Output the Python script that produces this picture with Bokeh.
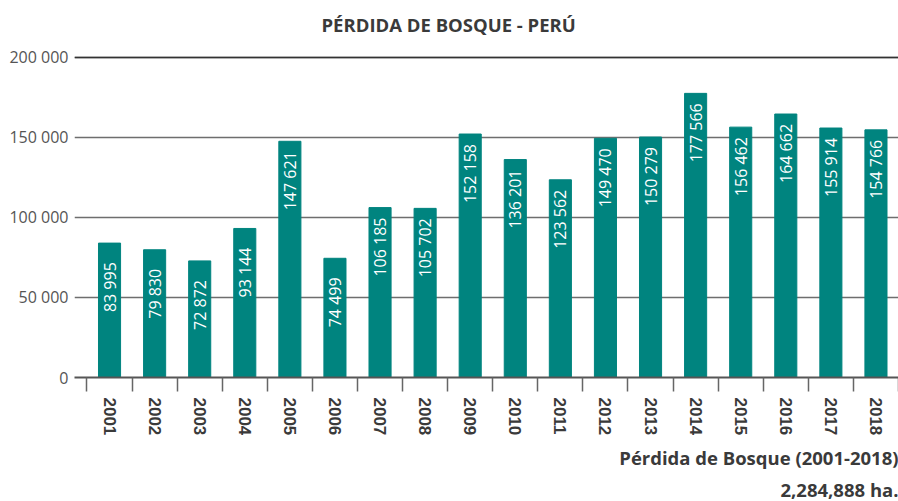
import numpy as np
from bokeh.plotting import figure
from bokeh.models import ColumnDataSource, FixedTicker, Span, Range1d, Title
from bokeh.core.properties import value
from bokeh.embed import file_html
from bokeh.resources import INLINE

years = ["2001", "2002", "2003", "2004", "2005", "2006", "2007", "2008", "2009",
         "2010", "2011", "2012", "2013", "2014", "2015", "2016", "2017", "2018"]
loss = [83995, 79830, 72872, 93144, 147621, 74499, 106185, 105702, 152158,
        136201, 123562, 149470, 150279, 177566, 156462, 164662, 155914, 154766]
y_ticks = [0, 50000, 100000, 150000, 200000]
y_tick_labels = ["0", "50 000", "100 000", "150 000", "200 000"]
title_text = "PÉRDIDA DE BOSQUE - PERÚ"
footer_1 = "Pérdida de Bosque (2001-2018)"
footer_2 = "2,284,888 ha."

xs = list(range(1, len(years) + 1))
labels = [f"{v:,}".replace(",", " ") for v in loss]
src = ColumnDataSource(dict(x=xs, top=loss, lab=labels))

BAR = "#00847f"
DARK = "#3a3a3a"

p = figure(width=898, height=501, output_backend="svg", toolbar_location=None,
           x_range=Range1d(0.223, 18.5), y_range=Range1d(0, 205607),
           min_border_left=74, min_border_right=0, min_border_top=48,
           min_border_bottom=121)
p.outline_line_color = None

p.vbar(x="x", top="top", bottom=0, width=0.49, color=BAR, source=src)
p.text(x="x", y="top", text="lab", source=src, angle=np.pi / 2,
       text_align="left", text_baseline="middle", y_offset=69,
       text_color="white", text_font=value("Open Sans"), text_font_size="16px")

# axes
p.xaxis.ticker = FixedTicker(ticks=xs, minor_ticks=[i + 0.5 for i in range(0, len(years) + 1)])
p.xaxis.major_label_overrides = {x: y for x, y in zip(xs, years)}
p.xaxis.major_label_orientation = "vertical"
p.xaxis.major_tick_out = 0
p.xaxis.major_tick_in = 0
p.xaxis.minor_tick_out = 14
p.xaxis.minor_tick_in = 0
p.xaxis.minor_tick_line_color = "#666666"
p.xaxis.minor_tick_line_width = 1.5
p.xaxis.axis_line_color = "#555555"
p.xaxis.axis_line_width = 2
p.xaxis.major_label_standoff = 6
p.xaxis.major_label_text_font = "Liberation Sans"
p.xaxis.major_label_text_font_style = "bold"
p.xaxis.major_label_text_font_size = "17px"
p.xaxis.major_label_text_color = DARK

p.yaxis.ticker = FixedTicker(ticks=y_ticks)
p.yaxis.major_label_overrides = {t: l for t, l in zip(y_ticks, y_tick_labels)}
p.yaxis.axis_line_color = None
p.yaxis.major_tick_line_color = None
p.yaxis.minor_tick_line_color = None
p.yaxis.major_label_standoff = 0
p.yaxis.major_label_text_font = "Open Sans"
p.yaxis.major_label_text_font_size = "16px"
p.yaxis.major_label_text_color = "#555555"

p.xgrid.grid_line_color = None
p.ygrid.ticker = FixedTicker(ticks=y_ticks[1:])
p.ygrid.grid_line_color = "#6e6e6e"
p.ygrid.grid_line_width = 1.5

p.add_layout(Span(location=200000, dimension="width", line_color="#333333", line_width=1.5))

p.title = Title(text=title_text, align="left", offset=247, standoff=20,
                vertical_align="top",
                text_font="Open Sans", text_font_style="bold",
                text_font_size="18.5px", text_color=DARK)

p.add_layout(Title(text=footer_1, align="right", standoff=9,
                   text_font="Open Sans", text_font_style="bold",
                   text_font_size="18.5px", text_color=DARK), "below")
p.add_layout(Title(text=footer_2, align="right", standoff=0,
                   text_font="Open Sans", text_font_style="bold",
                   text_font_size="18.5px", text_color=DARK), "below")

open("out.html", "w").write(file_html(p, INLINE))
